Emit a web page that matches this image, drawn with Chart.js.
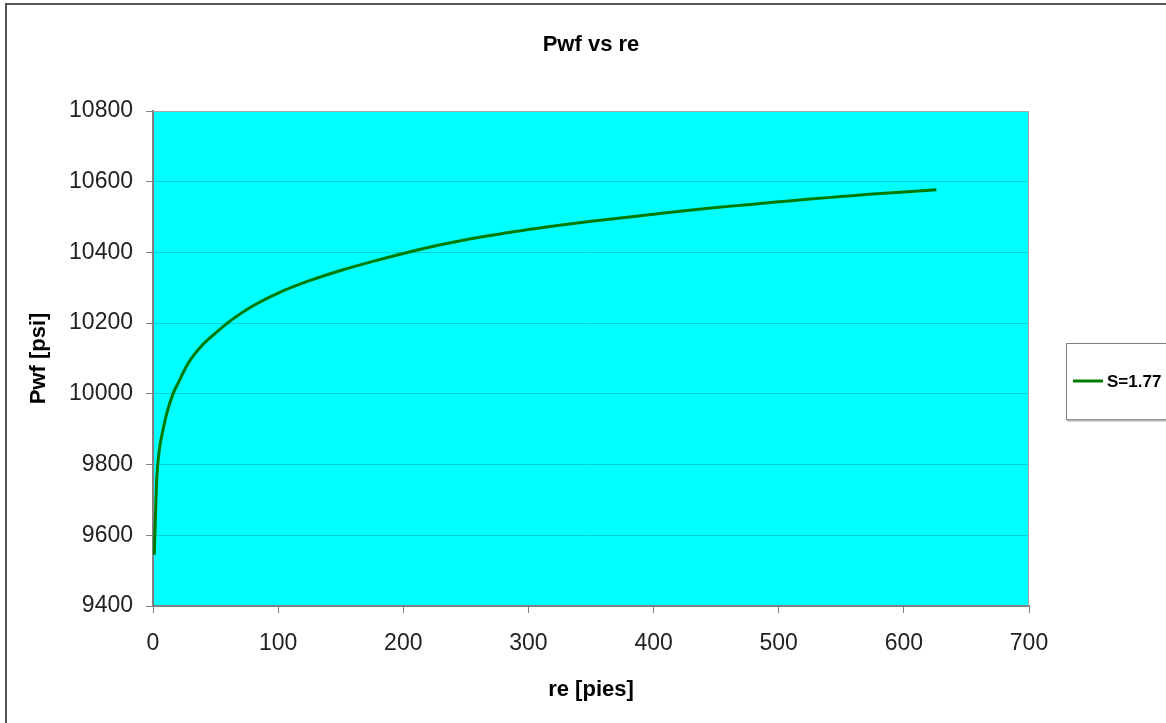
<!DOCTYPE html>
<html>
<head>
<meta charset="utf-8">
<script src="https://cdn.jsdelivr.net/npm/chart.js@4.4.1/dist/chart.umd.min.js"></script>
<style>
  html, body { margin: 0; padding: 0; background: #fff; }
  #wrap { position: relative; width: 1166px; height: 723px; }
</style>
</head>
<body>
<div id="wrap"><canvas id="chart" width="1166" height="723"></canvas></div>
<script>
// ── Data ─────────────────────────────────────────────────────────────────────
const reValues  = [1, 2, 3, 5, 8, 11, 16, 20, 28, 40, 50, 62, 77, 100, 125, 150, 175, 200,
                   225, 250, 275, 300, 325, 350, 375, 400, 425, 450, 475, 500, 525, 550, 575, 600, 626];
const pwfValues = [9545, 9660, 9760, 9840, 9898, 9945, 10000, 10030, 10086, 10140, 10172, 10207, 10243, 10285, 10320, 10349, 10374, 10397,
                   10418, 10436, 10451, 10465, 10477, 10488, 10498, 10508, 10518, 10527, 10535, 10543, 10551, 10558, 10565, 10571, 10577];
const seriesLabel = 'S=1.77';
const chartTitle  = 'Pwf vs re';
const xTitle = 're [pies]';
const yTitle = 'Pwf [psi]';

const FONT = "'Liberation Sans', Arial, sans-serif";
const LINE_COLOR = '#007a00';

// ── Plugins: frame, plot background, title, legend ──────────────────────────
const decor = {
  id: 'decor',
  beforeDraw(chart) {
    const {ctx, chartArea: a} = chart;
    ctx.save();
    ctx.fillStyle = '#fff';
    ctx.fillRect(0, 0, chart.width, chart.height);
    // outer frame
    ctx.strokeStyle = '#555';
    ctx.lineWidth = 2;
    ctx.strokeRect(6, 4, 1300, 1000);
    // plot area
    ctx.fillStyle = '#00ffff';
    ctx.fillRect(a.left, a.top, a.right - a.left, a.bottom - a.top);
    ctx.restore();
  },
  beforeDatasetsDraw(chart) {
    const {ctx, chartArea: a} = chart;
    ctx.save();
    ctx.strokeStyle = '#a8a8a8';
    ctx.lineWidth = 1;
    ctx.beginPath();
    ctx.moveTo(a.left, a.top + 0.5);
    ctx.lineTo(a.right - 0.5, a.top + 0.5);
    ctx.lineTo(a.right - 0.5, a.bottom);
    ctx.stroke();
    ctx.restore();
  },
  afterDraw(chart) {
    const {ctx, chartArea: a} = chart;
    ctx.save();
    // title, centred over the plot area
    ctx.fillStyle = '#000';
    ctx.font = 'bold 22px ' + FONT;
    ctx.textAlign = 'center';
    ctx.textBaseline = 'middle';
    ctx.fillText(chartTitle, (a.left + a.right) / 2, 45);

    // legend box
    ctx.fillStyle = '#fff';
    ctx.fillRect(1066, 343, 120, 76);
    ctx.strokeStyle = '#808080';
    ctx.lineWidth = 1;
    ctx.strokeRect(1066.5, 343.5, 120, 76);
    ctx.strokeStyle = '#b0b0b0';
    ctx.lineWidth = 2;
    ctx.beginPath();
    ctx.moveTo(1067, 420.5);
    ctx.lineTo(1170, 420.5);
    ctx.stroke();

    const ds = chart.data.datasets[0];
    ctx.strokeStyle = ds.borderColor;
    ctx.lineWidth = 3;
    ctx.beginPath();
    ctx.moveTo(1073, 381);
    ctx.lineTo(1103, 381);
    ctx.stroke();
    ctx.fillStyle = '#000';
    ctx.font = 'bold 17px ' + FONT;
    ctx.textAlign = 'left';
    ctx.fillText(ds.label, 1107, 382);
    ctx.restore();
  }
};

const plainNum = (v) => String(v);

// ── Chart ────────────────────────────────────────────────────────────────────
const ctx = document.getElementById('chart').getContext('2d');
new Chart(ctx, {
  type: 'line',
  data: {
    datasets: [{
      label: seriesLabel,
      data: reValues.map((r, i) => ({x: r, y: pwfValues[i]})),
      borderColor: LINE_COLOR,
      backgroundColor: LINE_COLOR,
      borderWidth: 3,
      pointRadius: 0,
      cubicInterpolationMode: 'monotone',
      fill: false,
    }]
  },
  options: {
    responsive: false,
    animation: false,
    layout: { padding: { top: 111, right: 137, left: 0, bottom: 0 } },
    plugins: {
      legend: { display: false },
      title: { display: false },
      tooltip: { enabled: false },
    },
    scales: {
      x: {
        type: 'linear',
        min: 0, max: 700,
        ticks: { stepSize: 100, color: '#222', padding: 17, font: { family: FONT, size: 23 }, callback: plainNum },
        grid: { drawOnChartArea: false, drawTicks: true, tickLength: 7, tickColor: '#808080' },
        border: { color: '#808080', width: 2 },
        title: { display: true, text: xTitle, color: '#000', font: { family: FONT, size: 22, weight: 'bold' },
                 padding: { top: 0, bottom: 20 } },
        afterFit(scale) { scale.height = 117; },
      },
      y: {
        type: 'linear',
        min: 9400, max: 10800,
        ticks: { stepSize: 200, color: '#222', padding: 13, font: { family: FONT, size: 23 }, callback: plainNum },
        grid: { color: '#00d0d0', lineWidth: 1, tickLength: 7, tickColor: '#808080' },
        border: { color: '#808080', width: 2 },
        title: { display: true, text: yTitle, color: '#000', font: { family: FONT, size: 22, weight: 'bold' },
                 padding: { top: 26, bottom: 0 } },
        afterFit(scale) { scale.width = 153; },
      },
    },
  },
  plugins: [decor],
});
</script>
</body>
</html>
